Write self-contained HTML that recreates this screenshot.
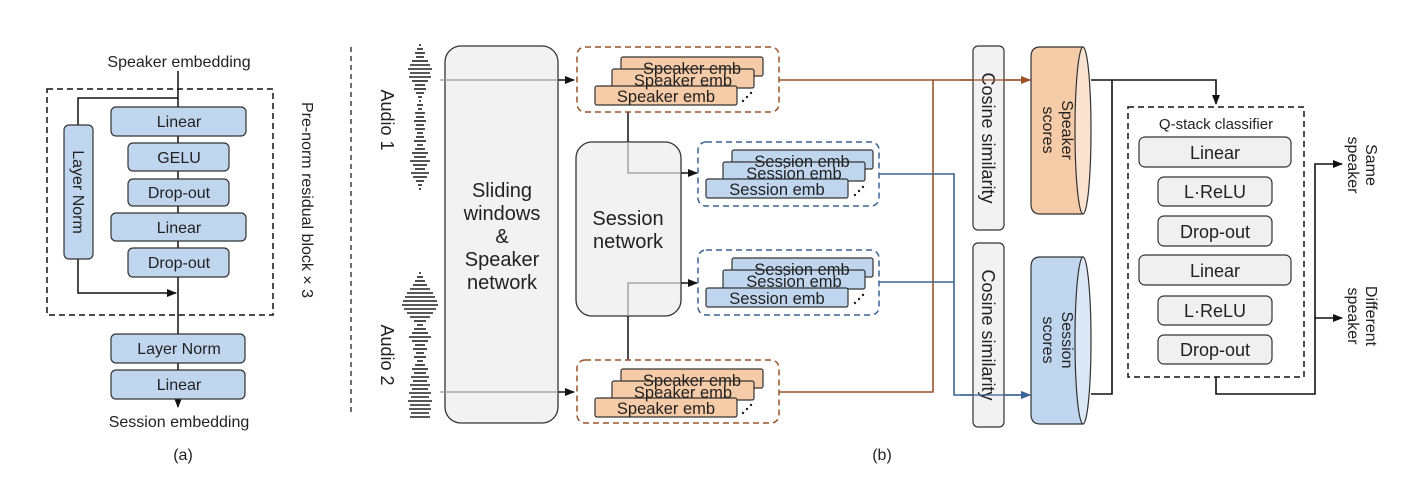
<!DOCTYPE html>
<html><head><meta charset="utf-8"><style>
html,body{margin:0;padding:0;background:#fff}
svg{display:block}
text{font-family:"Liberation Sans",sans-serif;fill:#222}
</style></head><body>
<svg width="1426" height="478" viewBox="0 0 1426 478" xmlns="http://www.w3.org/2000/svg">
<defs>
<marker id="ak" markerWidth="10" markerHeight="8" refX="9" refY="4" orient="auto" markerUnits="userSpaceOnUse"><path d="M0,0 L10,4 L0,8 z" fill="#111"/></marker>
<marker id="ab" markerWidth="10" markerHeight="8" refX="9" refY="4" orient="auto" markerUnits="userSpaceOnUse"><path d="M0,0 L10,4 L0,8 z" fill="#9a5428"/></marker>
<marker id="abl" markerWidth="10" markerHeight="8" refX="9" refY="4" orient="auto" markerUnits="userSpaceOnUse"><path d="M0,0 L10,4 L0,8 z" fill="#3b6496"/></marker>
</defs>

<!-- Panel (a) -->
<text x="179" y="67" font-size="16" text-anchor="middle">Speaker embedding</text>
<line x1="178" y1="71" x2="178" y2="407" stroke="#111" stroke-width="1.5" marker-end="url(#ak)"/>
<rect x="47" y="89" width="226" height="226" fill="none" stroke="#111" stroke-width="1.5" stroke-dasharray="6,4"/>
<polyline points="178,98 78,98 78,125" fill="none" stroke="#111" stroke-width="1.5"/>
<polyline points="78,259 78,293 176,293" fill="none" stroke="#111" stroke-width="1.5" marker-end="url(#ak)"/>
<g fill="#c0d6ee" stroke="#333" stroke-width="1.2">
<rect x="64" y="125" width="29" height="134" rx="5"/>
<rect x="111" y="107" width="135" height="29" rx="5"/>
<rect x="128" y="143" width="101" height="28" rx="5"/>
<rect x="128" y="179" width="101" height="27" rx="5"/>
<rect x="111" y="213" width="135" height="28" rx="5"/>
<rect x="128" y="248" width="101" height="29" rx="5"/>
<rect x="111" y="334" width="134" height="29" rx="5"/>
<rect x="111" y="370" width="134" height="29" rx="5"/>
</g>
<g font-size="16" text-anchor="middle">
<text x="179" y="127">Linear</text>
<text x="179" y="163">GELU</text>
<text x="179" y="198">Drop-out</text>
<text x="179" y="233">Linear</text>
<text x="179" y="268">Drop-out</text>
<text x="179" y="354">Layer Norm</text>
<text x="179" y="390">Linear</text>
<text transform="translate(73,192) rotate(90)">Layer Norm</text>
</g>
<text x="179" y="427" font-size="16" text-anchor="middle">Session embedding</text>
<text x="183" y="460" font-size="16" text-anchor="middle">(a)</text>
<text transform="translate(302,200) rotate(90)" font-size="16" text-anchor="middle">Pre-norm residual block × 3</text>
<line x1="351" y1="47" x2="351" y2="415" stroke="#111" stroke-width="1.2" stroke-dasharray="5,4"/>

<!-- Waveforms -->
<g stroke="#222" stroke-width="1.6">
<line x1="419" y1="45" x2="421" y2="45"/><line x1="417" y1="49" x2="423" y2="49"/><line x1="415" y1="53" x2="425" y2="53"/><line x1="416" y1="57" x2="424" y2="57"/><line x1="412" y1="61" x2="428" y2="61"/><line x1="410" y1="65" x2="430" y2="65"/><line x1="408" y1="69" x2="432" y2="69"/><line x1="410" y1="73" x2="430" y2="73"/><line x1="409" y1="77" x2="431" y2="77"/><line x1="412" y1="81" x2="428" y2="81"/><line x1="415" y1="85" x2="425" y2="85"/><line x1="414" y1="89" x2="426" y2="89"/><line x1="416" y1="93" x2="424" y2="93"/><line x1="418" y1="97" x2="422" y2="97"/><line x1="419" y1="101" x2="421" y2="101"/><line x1="417" y1="105" x2="423" y2="105"/><line x1="418" y1="109" x2="422" y2="109"/><line x1="415" y1="113" x2="425" y2="113"/><line x1="416" y1="117" x2="424" y2="117"/><line x1="414" y1="121" x2="426" y2="121"/><line x1="416" y1="125" x2="424" y2="125"/><line x1="415" y1="129" x2="425" y2="129"/><line x1="417" y1="133" x2="423" y2="133"/><line x1="416" y1="137" x2="424" y2="137"/><line x1="414" y1="141" x2="426" y2="141"/><line x1="417" y1="145" x2="423" y2="145"/><line x1="415" y1="149" x2="425" y2="149"/><line x1="412" y1="153" x2="428" y2="153"/><line x1="414" y1="157" x2="426" y2="157"/><line x1="410" y1="161" x2="430" y2="161"/><line x1="413" y1="165" x2="427" y2="165"/><line x1="415" y1="169" x2="425" y2="169"/><line x1="411" y1="173" x2="429" y2="173"/><line x1="413" y1="177" x2="427" y2="177"/><line x1="416" y1="181" x2="424" y2="181"/><line x1="418" y1="185" x2="422" y2="185"/><line x1="419" y1="189" x2="421" y2="189"/>
<line x1="419" y1="273" x2="421" y2="273"/><line x1="417" y1="277" x2="423" y2="277"/><line x1="415" y1="281" x2="425" y2="281"/><line x1="413" y1="285" x2="427" y2="285"/><line x1="410" y1="289" x2="430" y2="289"/><line x1="407" y1="293" x2="433" y2="293"/><line x1="405" y1="297" x2="435" y2="297"/><line x1="403" y1="301" x2="437" y2="301"/><line x1="402" y1="305" x2="438" y2="305"/><line x1="404" y1="309" x2="436" y2="309"/><line x1="407" y1="313" x2="433" y2="313"/><line x1="410" y1="317" x2="430" y2="317"/><line x1="414" y1="321" x2="426" y2="321"/><line x1="417" y1="325" x2="423" y2="325"/><line x1="414" y1="329" x2="426" y2="329"/><line x1="412" y1="333" x2="428" y2="333"/><line x1="409" y1="337" x2="431" y2="337"/><line x1="412" y1="341" x2="428" y2="341"/><line x1="415" y1="345" x2="425" y2="345"/><line x1="413" y1="349" x2="427" y2="349"/><line x1="416" y1="353" x2="424" y2="353"/><line x1="414" y1="357" x2="426" y2="357"/><line x1="417" y1="361" x2="423" y2="361"/><line x1="415" y1="365" x2="425" y2="365"/><line x1="412" y1="369" x2="428" y2="369"/><line x1="414" y1="373" x2="426" y2="373"/><line x1="411" y1="377" x2="429" y2="377"/><line x1="413" y1="381" x2="427" y2="381"/><line x1="410" y1="385" x2="430" y2="385"/><line x1="412" y1="389" x2="428" y2="389"/><line x1="409" y1="393" x2="431" y2="393"/><line x1="411" y1="397" x2="429" y2="397"/><line x1="408" y1="401" x2="432" y2="401"/><line x1="410" y1="405" x2="430" y2="405"/><line x1="409" y1="409" x2="431" y2="409"/><line x1="411" y1="413" x2="429" y2="413"/><line x1="410" y1="417" x2="430" y2="417"/>
</g>
<text transform="translate(381,120) rotate(90)" font-size="18" text-anchor="middle">Audio 1</text>
<text transform="translate(381,355) rotate(90)" font-size="18" text-anchor="middle">Audio 2</text>

<!-- Sliding box -->
<rect x="445" y="46" width="113" height="377" rx="16" fill="#f2f2f2" stroke="#333" stroke-width="1.3"/>
<g font-size="20" text-anchor="middle">
<text x="502" y="197">Sliding</text>
<text x="502" y="220">windows</text>
<text x="502" y="243">&amp;</text>
<text x="502" y="266">Speaker</text>
<text x="502" y="289">network</text>
</g>
<line x1="440" y1="80" x2="560" y2="80" stroke="#999" stroke-width="1.3"/>
<line x1="558" y1="80" x2="574" y2="80" stroke="#111" stroke-width="1.5" marker-end="url(#ak)"/>
<line x1="440" y1="392" x2="560" y2="392" stroke="#999" stroke-width="1.3"/>
<line x1="558" y1="392" x2="574" y2="392" stroke="#111" stroke-width="1.5" marker-end="url(#ak)"/>

<!-- Session network -->
<rect x="576" y="142" width="105" height="174" rx="16" fill="#f2f2f2" stroke="#333" stroke-width="1.3"/>
<text x="628" y="225" font-size="20" text-anchor="middle">Session</text>
<text x="628" y="248" font-size="20" text-anchor="middle">network</text>
<line x1="628" y1="112" x2="628" y2="142" stroke="#111" stroke-width="1.5"/>
<polyline points="628,142 628,173 684,173" fill="none" stroke="#999" stroke-width="1.3"/>
<line x1="681" y1="173" x2="697" y2="173" stroke="#111" stroke-width="1.5" marker-end="url(#ak)"/>
<line x1="628" y1="360" x2="628" y2="316" stroke="#111" stroke-width="1.5"/>
<polyline points="628,316 628,283 684,283" fill="none" stroke="#999" stroke-width="1.3"/>
<line x1="681" y1="283" x2="697" y2="283" stroke="#111" stroke-width="1.5" marker-end="url(#ak)"/>

<!-- Speaker emb boxes -->
<g fill="none" stroke="#9a5428" stroke-width="1.5" stroke-dasharray="6,4">
<rect x="577" y="47" width="202" height="65" rx="8"/>
<rect x="577" y="360" width="202" height="63" rx="8"/>
</g>
<g fill="#f6cba8" stroke="#333" stroke-width="1.2">
<rect x="621" y="57" width="142" height="19" rx="2"/><rect x="612" y="69" width="142" height="19" rx="2"/><rect x="595" y="86" width="142" height="19" rx="2"/>
<rect x="621" y="369" width="142" height="19" rx="2"/><rect x="612" y="381" width="142" height="19" rx="2"/><rect x="595" y="398" width="142" height="19" rx="2"/>
</g>
<g font-size="16.5" text-anchor="middle">
<text x="692" y="74">Speaker emb</text><text x="683" y="86">Speaker emb</text><text x="666" y="102">Speaker emb</text>
<text x="692" y="386">Speaker emb</text><text x="683" y="398">Speaker emb</text><text x="666" y="414">Speaker emb</text>
</g>

<!-- Session emb boxes -->
<g fill="none" stroke="#3b6496" stroke-width="1.5" stroke-dasharray="6,4">
<rect x="698" y="142" width="181" height="64" rx="8"/>
<rect x="698" y="250" width="181" height="65" rx="8"/>
</g>
<g fill="#c0d6ee" stroke="#333" stroke-width="1.2">
<rect x="732" y="150" width="141" height="19" rx="2"/><rect x="723" y="162" width="142" height="19" rx="2"/><rect x="706" y="179" width="142" height="19" rx="2"/>
<rect x="732" y="258" width="141" height="19" rx="2"/><rect x="723" y="270" width="142" height="19" rx="2"/><rect x="706" y="288" width="142" height="19" rx="2"/>
</g>
<g font-size="16.5" text-anchor="middle">
<text x="802" y="167">Session emb</text><text x="794" y="179">Session emb</text><text x="777" y="195">Session emb</text>
<text x="802" y="275">Session emb</text><text x="794" y="287">Session emb</text><text x="777" y="304">Session emb</text>
</g>
<g fill="#222">
<circle cx="743" cy="101" r="1.2"/><circle cx="747" cy="97" r="1.2"/><circle cx="751" cy="93" r="1.2"/>
<circle cx="743" cy="413" r="1.2"/><circle cx="747" cy="409" r="1.2"/><circle cx="751" cy="405" r="1.2"/>
<circle cx="855" cy="195" r="1.2"/><circle cx="859" cy="191" r="1.2"/><circle cx="863" cy="187" r="1.2"/>
<circle cx="855" cy="303" r="1.2"/><circle cx="859" cy="299" r="1.2"/><circle cx="863" cy="295" r="1.2"/>
</g>

<!-- Colored connectors -->
<polyline points="779,80 1030,80" fill="none" stroke="#9a5428" stroke-width="1.6" marker-end="url(#ab)"/>
<polyline points="779,392 933,392 933,80" fill="none" stroke="#9a5428" stroke-width="1.6"/>
<polyline points="879,174 954,174 954,395 1030,395" fill="none" stroke="#3b6496" stroke-width="1.6" marker-end="url(#abl)"/>
<polyline points="879,282 954,282" fill="none" stroke="#3b6496" stroke-width="1.6"/>

<!-- Cosine similarity -->
<rect x="973" y="46" width="31" height="184" rx="5" fill="#f2f2f2" stroke="#333" stroke-width="1.2"/>
<rect x="973" y="243" width="31" height="184" rx="5" fill="#f2f2f2" stroke="#333" stroke-width="1.2"/>
<text transform="translate(982,138) rotate(90)" font-size="18" text-anchor="middle">Cosine similarity</text>
<text transform="translate(982,335) rotate(90)" font-size="18" text-anchor="middle">Cosine similarity</text>
<line x1="960" y1="80" x2="1030" y2="80" stroke="#9a5428" stroke-width="1.6" marker-end="url(#ab)" opacity="0.85"/>
<line x1="960" y1="395" x2="1030" y2="395" stroke="#3b6496" stroke-width="1.6" marker-end="url(#abl)" opacity="0.85"/>

<!-- Cylinders -->
<path d="M1083,47 L1040,47 Q1031,47 1031,57 L1031,204 Q1031,214 1040,214 L1083,214 Z" fill="#f6cba8" stroke="#333" stroke-width="1.2"/>
<ellipse cx="1083" cy="130.5" rx="8" ry="83.5" fill="#fbe3d2" stroke="#333" stroke-width="1.2"/>
<path d="M1083,257 L1040,257 Q1031,257 1031,267 L1031,414 Q1031,424 1040,424 L1083,424 Z" fill="#c0d6ee" stroke="#333" stroke-width="1.2"/>
<ellipse cx="1083" cy="340.5" rx="8" ry="83.5" fill="#dce8f5" stroke="#333" stroke-width="1.2"/>
<text transform="translate(1062,130) rotate(90)" font-size="16" text-anchor="middle">Speaker</text>
<text transform="translate(1043,130) rotate(90)" font-size="16" text-anchor="middle">scores</text>
<text transform="translate(1062,340) rotate(90)" font-size="16" text-anchor="middle">Session</text>
<text transform="translate(1043,340) rotate(90)" font-size="16" text-anchor="middle">scores</text>

<!-- to classifier -->
<polyline points="1091,80 1216,80 1216,104" fill="none" stroke="#111" stroke-width="1.6" marker-end="url(#ak)"/>
<polyline points="1112,80 1112,394 1091,394" fill="none" stroke="#111" stroke-width="1.6"/>

<rect x="1128" y="107" width="176" height="270" fill="none" stroke="#111" stroke-width="1.5" stroke-dasharray="6,4"/>
<text x="1216" y="129" font-size="15" text-anchor="middle">Q-stack classifier</text>
<g fill="#f0f0f0" stroke="#333" stroke-width="1.2">
<rect x="1139" y="137" width="152" height="30" rx="6"/>
<rect x="1158" y="177" width="114" height="29" rx="6"/>
<rect x="1158" y="216" width="114" height="30" rx="6"/>
<rect x="1139" y="255" width="152" height="30" rx="6"/>
<rect x="1158" y="296" width="114" height="29" rx="6"/>
<rect x="1158" y="335" width="114" height="29" rx="6"/>
</g>
<g font-size="18" text-anchor="middle">
<text x="1215" y="159">Linear</text>
<text x="1215" y="198">L·ReLU</text>
<text x="1215" y="238">Drop-out</text>
<text x="1215" y="277">Linear</text>
<text x="1215" y="317">L·ReLU</text>
<text x="1215" y="356">Drop-out</text>
</g>
<polyline points="1216,377 1216,394 1315,394 1315,164 1342,164" fill="none" stroke="#111" stroke-width="1.6" marker-end="url(#ak)"/>
<line x1="1315" y1="318" x2="1342" y2="318" stroke="#111" stroke-width="1.6" marker-end="url(#ak)"/>
<g font-size="16" text-anchor="middle">
<text transform="translate(1366,165) rotate(90)">Same</text>
<text transform="translate(1348,165) rotate(90)">speaker</text>
<text transform="translate(1366,316) rotate(90)">Different</text>
<text transform="translate(1348,316) rotate(90)">speaker</text>
</g>
<text x="882" y="460" font-size="16" text-anchor="middle">(b)</text>
</svg>
</body></html>
